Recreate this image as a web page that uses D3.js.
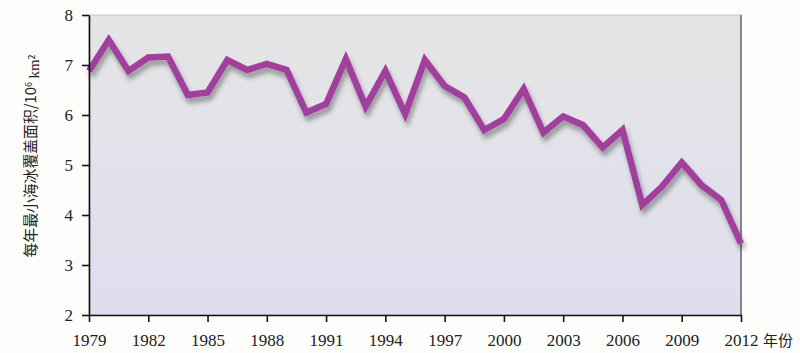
<!DOCTYPE html>
<html>
<head>
<meta charset="utf-8">
<script src="https://cdn.jsdelivr.net/npm/d3@7"></script>
<style>
  body { margin: 0; background: #fdfdfb; }
  text { font-family: "Liberation Serif", "DejaVu Serif", serif; fill: #222; }
</style>
</head>
<body>
<div id="chart"></div>
<script>
// data
var years = d3.range(1979, 2013);
var iceArea = [6.88, 7.5, 6.88, 7.15, 7.17, 6.4, 6.45, 7.1, 6.9, 7.02, 6.9, 6.05, 6.22,
  7.12, 6.17, 6.88, 6.02, 7.1, 6.58, 6.35, 5.7, 5.92, 6.52, 5.65, 5.97, 5.8, 5.35,
  5.7, 4.2, 4.57, 5.05, 4.6, 4.3, 3.43];
var xTicks = [1979, 1982, 1985, 1988, 1991, 1994, 1997, 2000, 2003, 2006, 2009, 2012];
var yTicks = [2, 3, 4, 5, 6, 7, 8];

var svgWidth = 800;
var svgHeight = 353;
var margin = { top: 15, right: 59, bottom: 38, left: 89 };
var width = svgWidth - margin.left - margin.right;
var height = svgHeight - margin.top - margin.bottom;

var svg = d3.select("#chart")
  .append("svg")
  .attr("width", svgWidth)
  .attr("height", svgHeight);

var defs = svg.append("defs");
var grad = defs.append("linearGradient")
  .attr("id", "bg")
  .attr("x1", 0).attr("y1", 0).attr("x2", 0).attr("y2", 1);
grad.append("stop").attr("offset", "0%").attr("stop-color", "#e5e5e5");
grad.append("stop").attr("offset", "100%").attr("stop-color", "#dedeef");

var shadow = defs.append("filter")
  .attr("id", "shadow")
  .attr("x", "-10%").attr("y", "-10%")
  .attr("width", "120%").attr("height", "140%");
shadow.append("feGaussianBlur").attr("in", "SourceAlpha").attr("stdDeviation", 2.5).attr("result", "blur");
shadow.append("feOffset").attr("in", "blur").attr("dx", 2).attr("dy", 5).attr("result", "off");
shadow.append("feComponentTransfer").attr("in", "off").attr("result", "soft")
  .append("feFuncA").attr("type", "linear").attr("slope", 0.35);
var merge = shadow.append("feMerge");
merge.append("feMergeNode").attr("in", "soft");
merge.append("feMergeNode").attr("in", "SourceGraphic");

var chartGroup = svg.append("g")
  .attr("transform", `translate(${margin.left}, ${margin.top})`);

var xScale = d3.scaleLinear().domain([1979, 2012]).range([0, width]);
var yScale = d3.scaleLinear().domain([2, 8]).range([height, 0]);

// plot background
chartGroup.append("rect")
  .attr("width", width)
  .attr("height", height)
  .attr("fill", "url(#bg)")
  .attr("stroke", "#bbb")
  .attr("stroke-width", 0.8);

// right edge
chartGroup.append("line")
  .attr("x1", width).attr("x2", width)
  .attr("y1", 0).attr("y2", height)
  .attr("stroke", "#333").attr("stroke-width", 1);

// line
var line = d3.line()
  .x((d, i) => xScale(years[i]))
  .y(d => yScale(d));

chartGroup.append("path")
  .datum(iceArea)
  .attr("d", line)
  .attr("fill", "none")
  .attr("stroke", "#a13f9c")
  .attr("stroke-width", 6.5)
  .attr("stroke-linejoin", "miter")
  .attr("filter", "url(#shadow)");

// axes
var bottomAxis = d3.axisBottom(xScale)
  .tickValues(xTicks)
  .tickFormat(d3.format("d"))
  .tickSizeInner(7)
  .tickSizeOuter(0)
  .tickPadding(12);
var leftAxis = d3.axisLeft(yScale)
  .tickValues(yTicks)
  .tickFormat(d3.format("d"))
  .tickSizeInner(7)
  .tickSizeOuter(0)
  .tickPadding(9);

var xAxis = chartGroup.append("g")
  .attr("transform", `translate(0, ${height})`)
  .call(bottomAxis);
var yAxis = chartGroup.append("g")
  .call(leftAxis);

[xAxis, yAxis].forEach(function(ax) {
  ax.select(".domain").attr("stroke", "#111").attr("stroke-width", 1.6);
  ax.selectAll(".tick line").attr("stroke", "#111").attr("stroke-width", 1.6);
  ax.selectAll(".tick text")
    .style("font-family", "'Liberation Serif', serif")
    .style("font-size", "17px")
    .attr("fill", "#222");
});
yAxis.selectAll(".tick text").attr("dy", "0.35em");

// x axis unit
svg.append("text")
  .attr("x", margin.left + width + 22)
  .attr("y", margin.top + height + 31)
  .style("font-family", "'Noto Sans CJK SC', sans-serif")
  .style("font-size", "15px")
  .text("年份");

// y axis label
var yLabel = svg.append("text")
  .attr("transform", "translate(36, 156) rotate(-90)")
  .attr("text-anchor", "middle")
  .attr("textLength", 203)
  .attr("lengthAdjust", "spacingAndGlyphs")
  .style("font-family", "'Noto Sans CJK SC', sans-serif")
  .style("font-size", "15px");
yLabel.append("tspan").text("每年最小海冰覆盖面积/10");
yLabel.append("tspan").attr("dy", "-0.5em").style("font-size", "9px").text("6");
yLabel.append("tspan").attr("dy", "0.5em").style("font-family", "'Liberation Serif', serif").text(" km");
yLabel.append("tspan").attr("dy", "-0.5em").style("font-size", "9px").text("2");
</script>
</body>
</html>
